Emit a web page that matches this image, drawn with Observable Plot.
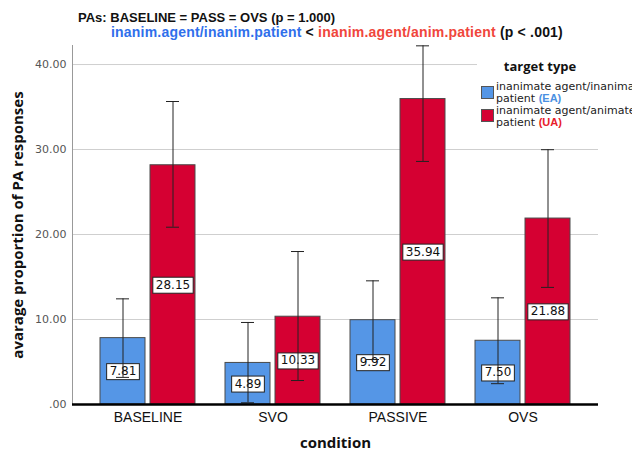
<!DOCTYPE html>
<html><head><meta charset="utf-8">
<script src="https://cdn.jsdelivr.net/npm/d3@7"></script>
<script src="https://cdn.jsdelivr.net/npm/@observablehq/plot@0.6"></script>
<style>
body{margin:0;background:#fff;}
#wrap{position:relative;width:632px;height:452px;overflow:hidden;background:#fff;}
#title{position:relative;height:40px;font-family:"Liberation Sans",Arial,sans-serif;font-weight:bold;color:#111;}
#title .l1{position:absolute;left:78px;top:11px;white-space:nowrap;font-size:13px;line-height:14px;}
#title .l2{position:absolute;left:111px;top:25px;white-space:nowrap;font-size:14px;line-height:14px;letter-spacing:0.2px;}
.blue{color:#2f6feb;} .red{color:#f0463c;}
#legend{position:absolute;left:477px;top:54px;width:160px;height:82px;background:#fff;font-family:"DejaVu Sans",sans-serif;font-size:11px;color:#222;}
#legend .t{position:absolute;left:0;width:126px;text-align:center;top:3px;font-family:"Open Sans",sans-serif;font-weight:bold;font-size:13px;color:#111;}
#legend .sw{position:absolute;left:4px;width:11px;height:11px;border:1px solid #555;}
#legend .tx{position:absolute;left:19px;line-height:11.5px;white-space:nowrap;}
#legend b{font-family:"Liberation Sans",sans-serif;}
#chart svg{display:block;}
</style></head><body>
<div id="wrap">
  <div id="title">
    <div class="l1">PAs: BASELINE = PASS = OVS (p = 1.000)</div>
    <div class="l2"><span class="blue">inanim.agent/inanim.patient</span> &lt; <span class="red">inanim.agent/anim.patient</span> (p &lt; .001)</div>
  </div>
  <div id="chart"></div>
  <div id="legend">
    <div class="t">target type</div>
    <div class="sw" style="top:32px;background:#5596e6;"></div>
    <div class="tx" style="top:27px;">inanimate agent/inanimate<br>patient <b style="color:#4a90e2">(EA)</b></div>
    <div class="sw" style="top:55px;background:#d50032;"></div>
    <div class="tx" style="top:51px;">inanimate agent/animate<br>patient <b style="color:#e8202a">(UA)</b></div>
  </div>
</div>
<script>
const conditions = ["BASELINE", "SVO", "PASSIVE", "OVS"];
const eaMeans = [7.81, 4.89, 9.92, 7.50];
const uaMeans = [28.15, 10.33, 35.94, 21.88];
const eaLow = [3.19, 0.2, 5.29, 2.45];
const eaHigh = [12.43, 9.65, 14.55, 12.55];
const uaLow = [20.86, 2.82, 28.6, 13.78];
const uaHigh = [35.65, 18.0, 42.2, 29.98];
const yTicks = [0, 10, 20, 30, 40];
const yLabel = "avarage proportion of PA responses";
const xLabel = "condition";

const ea = conditions.map((c, i) => ({condition: c, mean: eaMeans[i], lo: eaLow[i], hi: eaHigh[i]}));
const ua = conditions.map((c, i) => ({condition: c, mean: uaMeans[i], lo: uaLow[i], hi: uaHigh[i]}));
const fmt = d => d === 0 ? ".00" : d3.format(".2f")(d);

const valueText = (data, dx) => Plot.text(data, {
  x: "condition", y: d => d.mean / 2, text: d => d3.format(".2f")(d.mean), dx,
  fontFamily: "DejaVu Sans", fontSize: 12, fill: "#111"
});
const errRule = (data, dx) => Plot.ruleX(data, {x: "condition", y1: "lo", y2: "hi", dx, stroke: "#222", strokeWidth: 1});
const cap = (data, key, l, r) => Plot.tickY(data, {x: "condition", y: key, insetLeft: l, insetRight: r, stroke: "#222", strokeWidth: 1});

const chart = Plot.plot({
  width: 632, height: 412,
  marginLeft: 72, marginRight: 34, marginTop: 5, marginBottom: 48,
  x: {domain: conditions, paddingInner: 0, paddingOuter: 0.104},
  y: {domain: [0, 42.24]},
  style: {background: "transparent"},
  marks: [
    Plot.ruleY(yTicks.filter(d => d > 0), {stroke: "#cfcfcf", strokeWidth: 1}),
    Plot.frame({anchor: "left", stroke: "#999"}),
    Plot.barY(ea, {x: "condition", y: "mean", fill: "#5596e6", stroke: "#4a4a4a", strokeWidth: 1, insetLeft: 15, insetRight: 65}),
    Plot.barY(ua, {x: "condition", y: "mean", fill: "#d50032", stroke: "#4a4a4a", strokeWidth: 1, insetLeft: 65, insetRight: 15}),
    valueText(ea, -25),
    valueText(ua, 25),
    errRule(ea, -25), errRule(ua, 25),
    cap(ea, "hi", 31, 81), cap(ea, "lo", 31, 81),
    cap(ua, "hi", 81, 31), cap(ua, "lo", 81, 31),
    Plot.ruleY([0], {stroke: "#000", strokeWidth: 2.5}),
    Plot.axisY({ticks: yTicks, tickFormat: fmt, tickSize: 0, tickPadding: 6, label: null, fontSize: 11, fontFamily: "DejaVu Sans", fill: "#555"}),
    Plot.axisX({tickSize: 0, tickPadding: 8, label: null, fontSize: 14, fontFamily: "Liberation Sans", fill: "#111"}),
    Plot.text([xLabel], {frameAnchor: "bottom", dy: 43, fontSize: 15, fontWeight: "bold", fontFamily: "Open Sans", fill: "#111"}),
    Plot.text([yLabel], {frameAnchor: "left", textAnchor: "middle", rotate: -90, dx: -54, fontSize: 15, fontWeight: "bold", fontFamily: "Open Sans", fill: "#111"})
  ]
});
document.getElementById("chart").appendChild(chart);

// white boxes behind value labels
const re = /^\d+\.\d\d$/;
d3.select(chart).selectAll("g[aria-label='text'] text").each(function() {
  if (!re.test(this.textContent)) return;
  const b = this.getBBox();
  const r = document.createElementNS("http://www.w3.org/2000/svg", "rect");
  r.setAttribute("x", b.x - 3);
  r.setAttribute("y", b.y - 0.5);
  r.setAttribute("width", b.width + 6);
  r.setAttribute("height", b.height + 2);
  r.setAttribute("fill", "#fff");
  r.setAttribute("stroke", "#222");
  r.setAttribute("stroke-width", 1);
  const t = this.getAttribute("transform");
  if (t) r.setAttribute("transform", t);
  this.parentNode.insertBefore(r, this);
});
</script>
</body></html>
